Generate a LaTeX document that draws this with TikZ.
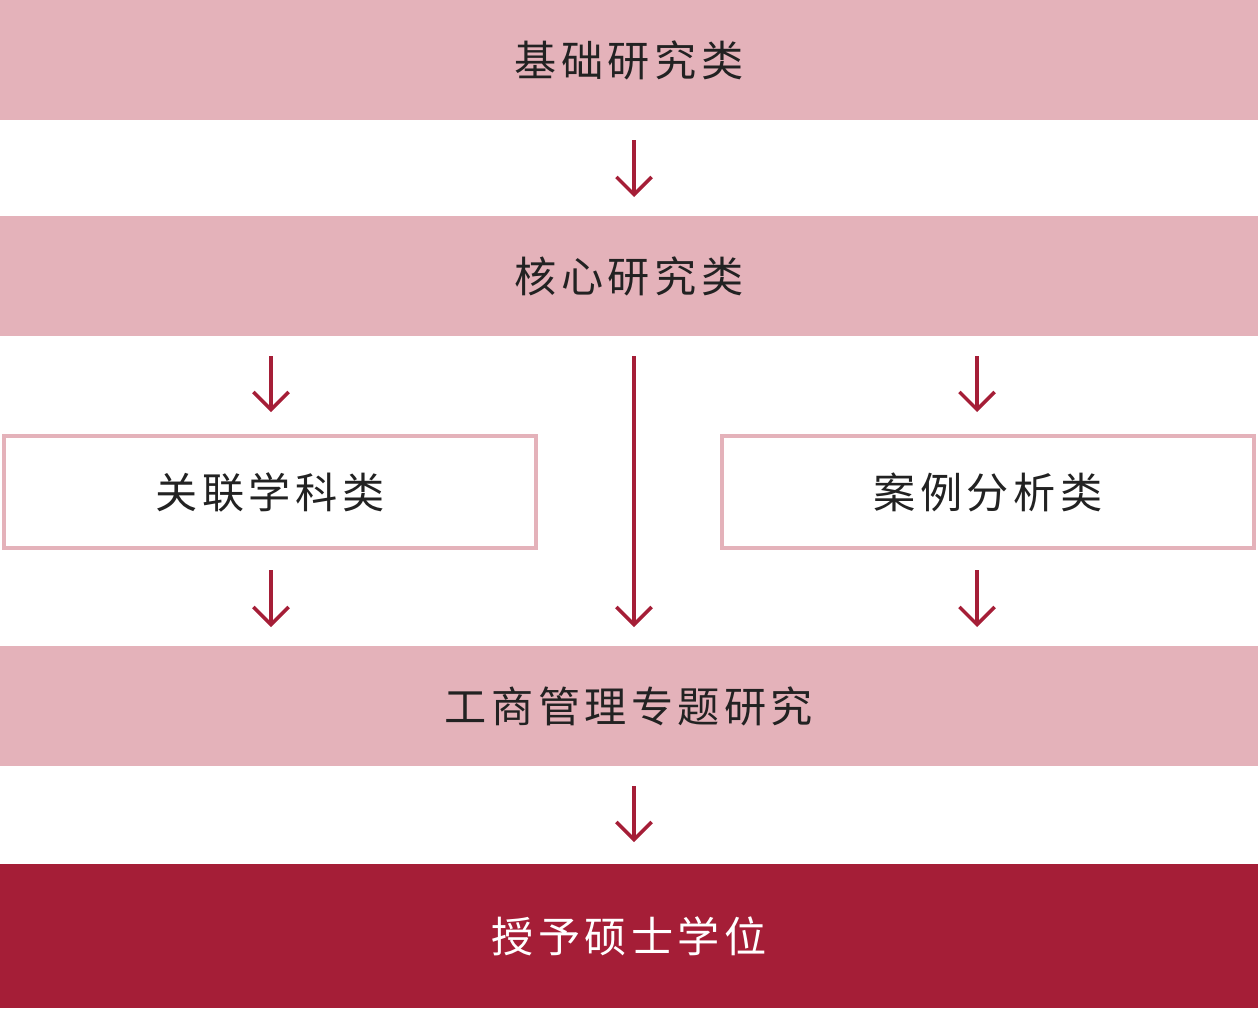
\documentclass[tikz,border=0pt]{standalone}
\usepackage{fontspec}
\setmainfont{Noto Sans CJK SC}
\usetikzlibrary{arrows.meta}
\definecolor{pinkband}{HTML}{E4B2BA}
\definecolor{darkred}{HTML}{A51E37}
\definecolor{txt}{HTML}{222222}
\newcommand{\gap}{\hspace{2.5pt}}
\begin{document}
\begin{tikzpicture}[x=0.02cm,y=-0.02cm,
    band/.style ={fill=pinkband, draw=none, minimum width=25.16cm, minimum height=2.4cm,
      inner sep=0pt, text=txt, font=\fontsize{24}{30}\selectfont},
    outline/.style ={draw=pinkband, line width=2.3pt, fill=white, minimum width=10.64cm,
      minimum height=2.24cm, inner sep=0pt, text=txt, font=\fontsize{24}{30}\selectfont},
    flow/.style ={draw=darkred, line width=2pt, -{Straight Barb[length=10pt,width=20pt,line width=2pt]}}]
   \useasboundingbox (0,0) rectangle (1258,1008);
   \node[band] (basic) at (629,60)  {基\gap 础\gap 研\gap 究\gap 类};
   \node[band] (core)  at (629,276) {核\gap 心\gap 研\gap 究\gap 类};
   \node[outline] (related) at (270,492) {关\gap 联\gap 学\gap 科\gap 类};
   \node[outline] (cases)   at (988,492) {案\gap 例\gap 分\gap 析\gap 类};
   \node[band] (topic) at (629,706) {工\gap 商\gap 管\gap 理\gap 专\gap 题\gap 研\gap 究};
   \node[band, fill=darkred, text=white, minimum height=2.88cm] (degree) at (629,936)
     {授\gap 予\gap 硕\gap 士\gap 学\gap 位};

   \coordinate (a1) at (634,140);  \coordinate (b1) at (634,197);
   \coordinate (a2) at (271,356);  \coordinate (b2) at (271,412);
   \coordinate (a3) at (977,356);  \coordinate (b3) at (977,412);
   \coordinate (a4) at (634,356);  \coordinate (b4) at (634,627);
   \coordinate (a5) at (271,570);  \coordinate (b5) at (271,627);
   \coordinate (a6) at (977,570);  \coordinate (b6) at (977,627);
   \coordinate (a7) at (634,786);  \coordinate (b7) at (634,842);

   \draw[flow] (a1) -- (b1);
   \draw[flow] (a2) -- (b2);
   \draw[flow] (a3) -- (b3);
   \draw[flow] (a4) -- (b4);
   \draw[flow] (a5) -- (b5);
   \draw[flow] (a6) -- (b6);
   \draw[flow] (a7) -- (b7);
 \end{tikzpicture}
\end{document}
